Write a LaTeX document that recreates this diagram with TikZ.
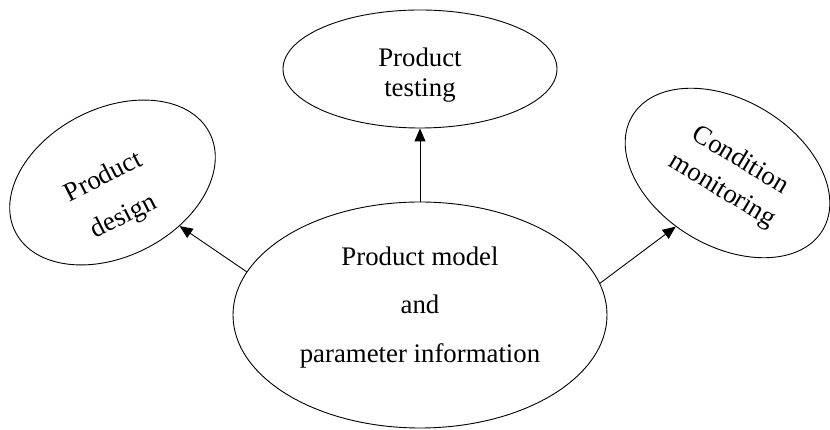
\documentclass[tikz,border=0pt]{standalone}
\usepackage{fontspec}
\setmainfont{Liberation Serif}
\usetikzlibrary{shapes.geometric,arrows.meta}
\begin{document}
\begin{tikzpicture}[x=1pt,y=1pt,
  bubble/.style={draw, ellipse, line width=0.9pt, inner sep=0pt},
  txt/.style={align=center, inner sep=0pt, font=\fontsize{26.8}{#1}\selectfont},
  link/.style={line width=0.9pt, -{Triangle[length=13pt,width=11pt]}}]
\useasboundingbox (0,0) rectangle (830,430);
\node[bubble, minimum width=374pt, minimum height=226pt] (main) at (420,115) {};
\node[txt=48.5] (maintext) at (420,122.5) {Product model\\and\\parameter information};
\node[bubble, minimum width=274pt, minimum height=118pt] (testing) at (420,361) {};
\node[txt=30] (testingtext) at (420,355) {Product\\testing};
\node[bubble, minimum width=218pt, minimum height=148pt, rotate=27] (design) at (112.5,247.5) {};
\node[txt=44, rotate=27] (designtext) at (114,232.5) {Product\\design};
\node[bubble, minimum width=222pt, minimum height=146pt, rotate=-31] (monitor) at (727.5,257) {};
\node[txt=35, rotate=-31] (monitortext) at (731,254) {Condition\\monitoring};
\draw[link] (main.90) -- (testing.-90);
\draw[link] (main.166.5) -- (design.-60);
\draw[link] (main.10.6) -- (monitor.-103.4);
\end{tikzpicture}
\end{document}
